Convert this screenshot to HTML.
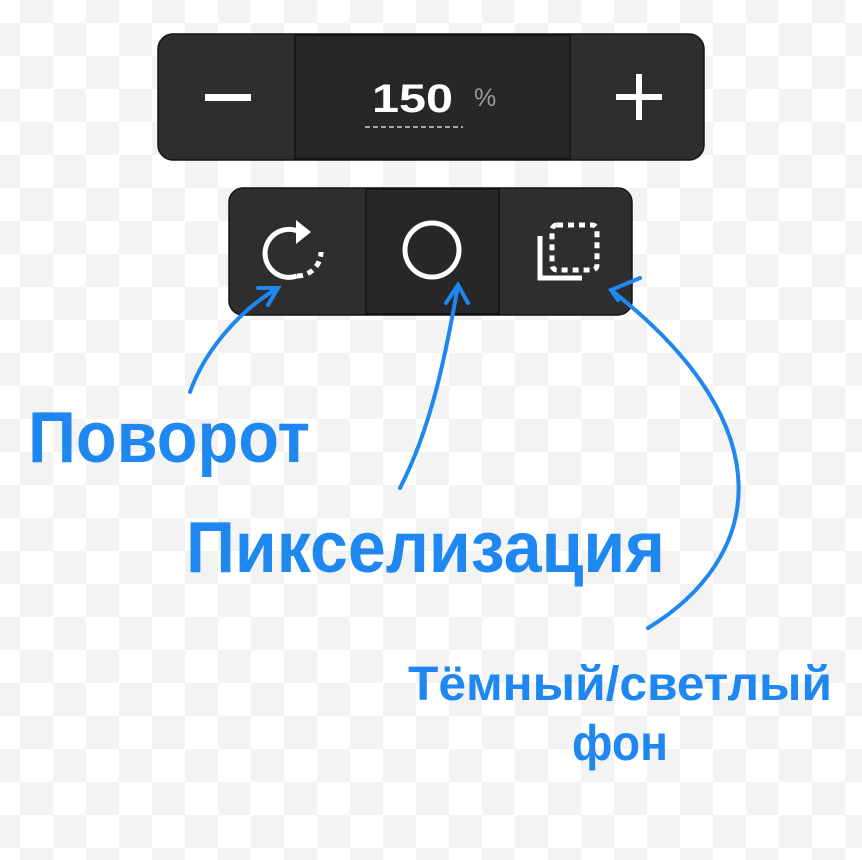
<!DOCTYPE html>
<html><head><meta charset="utf-8"><style>
html,body{margin:0;padding:0;width:862px;height:860px;overflow:hidden;background:#fff}
svg{display:block}
text{font-family:"Liberation Sans",Arial,sans-serif;font-weight:bold}
</style></head><body>
<svg width="862" height="860" viewBox="0 0 862 860" xmlns="http://www.w3.org/2000/svg">
<defs>
<pattern id="ck" x="-13" y="-10" width="66" height="66" patternUnits="userSpaceOnUse">
<rect width="66" height="66" fill="#ffffff"/>
<rect x="33" y="0" width="33" height="33" fill="#f3f3f3"/>
<rect x="0" y="33" width="33" height="33" fill="#f3f3f3"/>
</pattern>
</defs>
<rect width="862" height="860" fill="url(#ck)"/>

<!-- top bar -->
<rect x="158" y="34" width="546" height="126" rx="15" fill="#2e2e2e" stroke="#151515" stroke-width="1.5"/>
<rect x="295" y="35" width="275" height="124" fill="#272727" stroke="#111" stroke-width="1.5"/>
<rect x="205" y="94" width="46" height="7" fill="#fff"/>
<rect x="616" y="94" width="46" height="6" fill="#fff"/>
<rect x="636" y="74" width="6" height="46" fill="#fff"/>
<text x="372" y="112" font-size="40" fill="#fff" textLength="81" lengthAdjust="spacingAndGlyphs">150</text>
<text x="474" y="106" font-size="25" font-weight="normal" style="font-weight:normal" fill="#9a9a9a">%</text>
<line x1="365" y1="127" x2="463" y2="127" stroke="#cfcfcf" stroke-width="1.5" stroke-dasharray="5 3"/>

<!-- bottom bar -->
<rect x="229" y="188" width="403" height="127" rx="14" fill="#2e2e2e" stroke="#151515" stroke-width="1.5"/>
<rect x="366" y="189" width="133" height="125" fill="#272727" stroke="#111" stroke-width="1.5"/>
<!-- rotate icon -->
<path d="M300 232 A 24 24 0 1 0 297 276" fill="none" stroke="#fff" stroke-width="5"/>
<path d="M297 276 A 24 24 0 0 0 321 252" fill="none" stroke="#fff" stroke-width="5" stroke-dasharray="6 5"/>
<polygon points="296,220 311,232 296,244" fill="#fff"/>
<!-- circle -->
<circle cx="432" cy="250" r="27" fill="none" stroke="#fff" stroke-width="5"/>
<!-- layers icon -->
<path d="M540 236 V278 H582" fill="none" stroke="#fff" stroke-width="5"/>
<rect x="552" y="225" width="45" height="45" rx="5" fill="none" stroke="#fff" stroke-width="5" stroke-dasharray="6 5"/>

<!-- arrows -->
<g fill="none" stroke="#1e88f0" stroke-width="4" stroke-linecap="round">
<path d="M190 392 C205 350 240 310 278 288"/>
<path d="M258 288 L278 288 L268 305"/>
<path d="M400 488 C430 430 445 360 458 285"/>
<path d="M446 303 L458 285 L468 303"/>
<path d="M648 628 C760 560 790 430 611 290"/>
<path d="M640 278 L611 290 L618 300"/>
</g>

<!-- labels -->
<g fill="#1e88f0">
<text x="28" y="462" font-size="72" textLength="282" lengthAdjust="spacingAndGlyphs">Поворот</text>
<text x="186" y="572" font-size="72" textLength="479" lengthAdjust="spacingAndGlyphs">Пикселизация</text>
<text x="408" y="700" font-size="48" textLength="424" lengthAdjust="spacingAndGlyphs">Тёмный/светлый</text>
<text x="572" y="760" font-size="50" textLength="96" lengthAdjust="spacingAndGlyphs">фон</text>
</g>
</svg>
</body></html>
